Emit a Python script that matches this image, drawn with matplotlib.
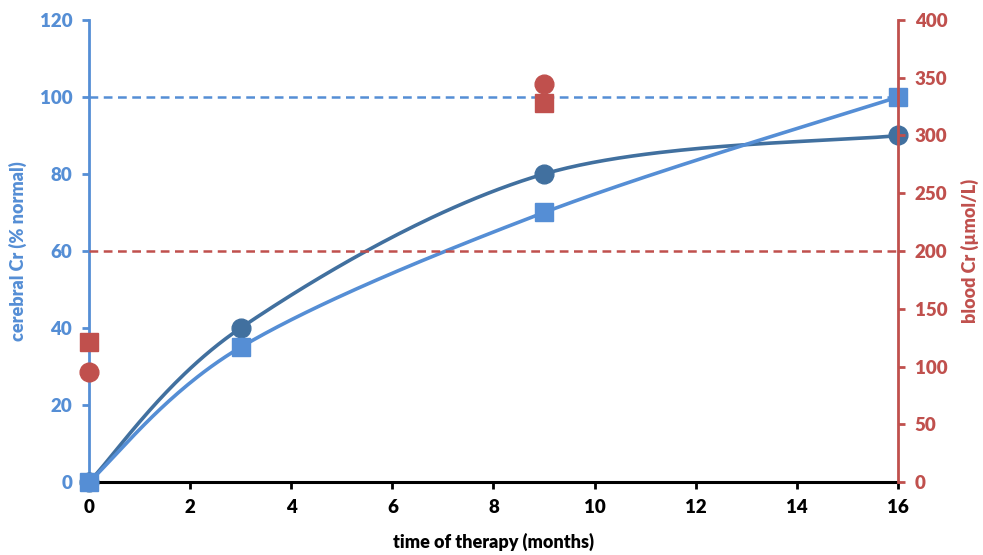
import numpy as np
import matplotlib.pyplot as plt

# Data
months = [0, 3, 9, 16]
cerebral_sq = [0, 35, 70, 100]      # % normal, squares
cerebral_ci = [0, 40, 80, 90]       # % normal, circles
blood_months = [0, 9]
blood_sq = [121, 328]               # umol/L, squares
blood_ci = [95, 345]                # umol/L, circles
ref_cerebral = 100
ref_blood = 200

LIGHT = '#558ED5'
DARK = '#41709F'
RED = '#C0504D'

plt.rcParams['font.family'] = ['Lato', 'DejaVu Sans']
plt.rcParams['font.weight'] = 'heavy'


def smooth(x, y, n=60):
    # Excel-like smoothed line: cubic Bezier with Catmull-Rom control points
    p = np.column_stack([x, y]).astype(float)
    ext = np.vstack([p[0], p, p[-1]])
    t = np.linspace(0, 1, n)[:, None]
    out = []
    for i in range(len(p) - 1):
        p0, p1, p2, p3 = ext[i], ext[i + 1], ext[i + 2], ext[i + 3]
        c1 = p1 + (p2 - p0) / 6
        c2 = p2 - (p3 - p1) / 6
        seg = ((1 - t) ** 3) * p1 + 3 * ((1 - t) ** 2) * t * c1 + 3 * (1 - t) * t ** 2 * c2 + t ** 3 * p2
        out.append(seg)
    out = np.vstack(out)
    return out[:, 0], out[:, 1]


fig = plt.figure(figsize=(9.83, 5.55), dpi=100)
ax = fig.add_axes([0.0905, 0.1315, 0.823, 0.8325])
ax2 = ax.twinx()

# reference lines
ax.plot([months[0], months[-1]], [ref_cerebral] * 2, color=LIGHT, lw=1.8,
        dashes=(3.5, 2.2), zorder=1)
ax2.plot([months[0], months[-1]], [ref_blood] * 2, color=RED, lw=1.8,
         dashes=(3.5, 2.2), zorder=1)

# cerebral Cr curves
xs, ys = smooth(months, cerebral_ci)
ax.plot(xs, ys, color=DARK, lw=2.6, zorder=3, clip_on=False)
ax.plot(months, cerebral_ci, 'o', color=DARK, ms=13.5, zorder=4, clip_on=False)
xs, ys = smooth(months, cerebral_sq)
ax.plot(xs, ys, color=LIGHT, lw=2.6, zorder=3, clip_on=False)
ax.plot(months, cerebral_sq, 's', color=LIGHT, ms=13, zorder=5, clip_on=False)

# blood Cr points
ax2.plot(blood_months, blood_sq, 's', color=RED, ms=13, zorder=4, clip_on=False)
ax2.plot(blood_months, blood_ci, 'o', color=RED, ms=13.5, zorder=4, clip_on=False)

ax.set_xlim(0, 16)
ax.set_ylim(0, 120)
ax2.set_ylim(0, 400)
ax.set_xticks(range(0, 17, 2))
ax.set_yticks(range(0, 121, 20))
ax2.set_yticks(range(0, 401, 50))

for a in (ax, ax2):
    a.spines['top'].set_visible(False)
    a.patch.set_visible(False)
ax.spines['right'].set_visible(False)
ax2.spines['left'].set_visible(False)
ax2.spines['bottom'].set_visible(False)
ax.spines['left'].set_color(LIGHT)
ax.spines['left'].set_linewidth(2)
ax.spines['bottom'].set_color('black')
ax.spines['bottom'].set_linewidth(2.2)
ax.spines['bottom'].set_zorder(2)
ax2.spines['right'].set_color(RED)
ax2.spines['right'].set_linewidth(2)

ax.tick_params(axis='y', colors=LIGHT, labelsize=13.5, length=5, width=2, pad=7)
ax.tick_params(axis='x', colors='black', labelsize=13.5, length=5, width=2, pad=7)
ax2.tick_params(axis='y', colors=RED, labelsize=13.5, length=5, width=2, pad=7)

ax.set_xlabel('time of therapy (months)', fontsize=13, fontweight='heavy', labelpad=12)
ax.set_ylabel('cerebral Cr (% normal)', fontsize=13, fontweight='heavy', color=LIGHT, labelpad=9)
ax2.set_ylabel('blood Cr (\u00b5mol/L)', fontsize=13, fontweight='heavy', color=RED, labelpad=10)

fig.savefig('out.png', dpi=100)
